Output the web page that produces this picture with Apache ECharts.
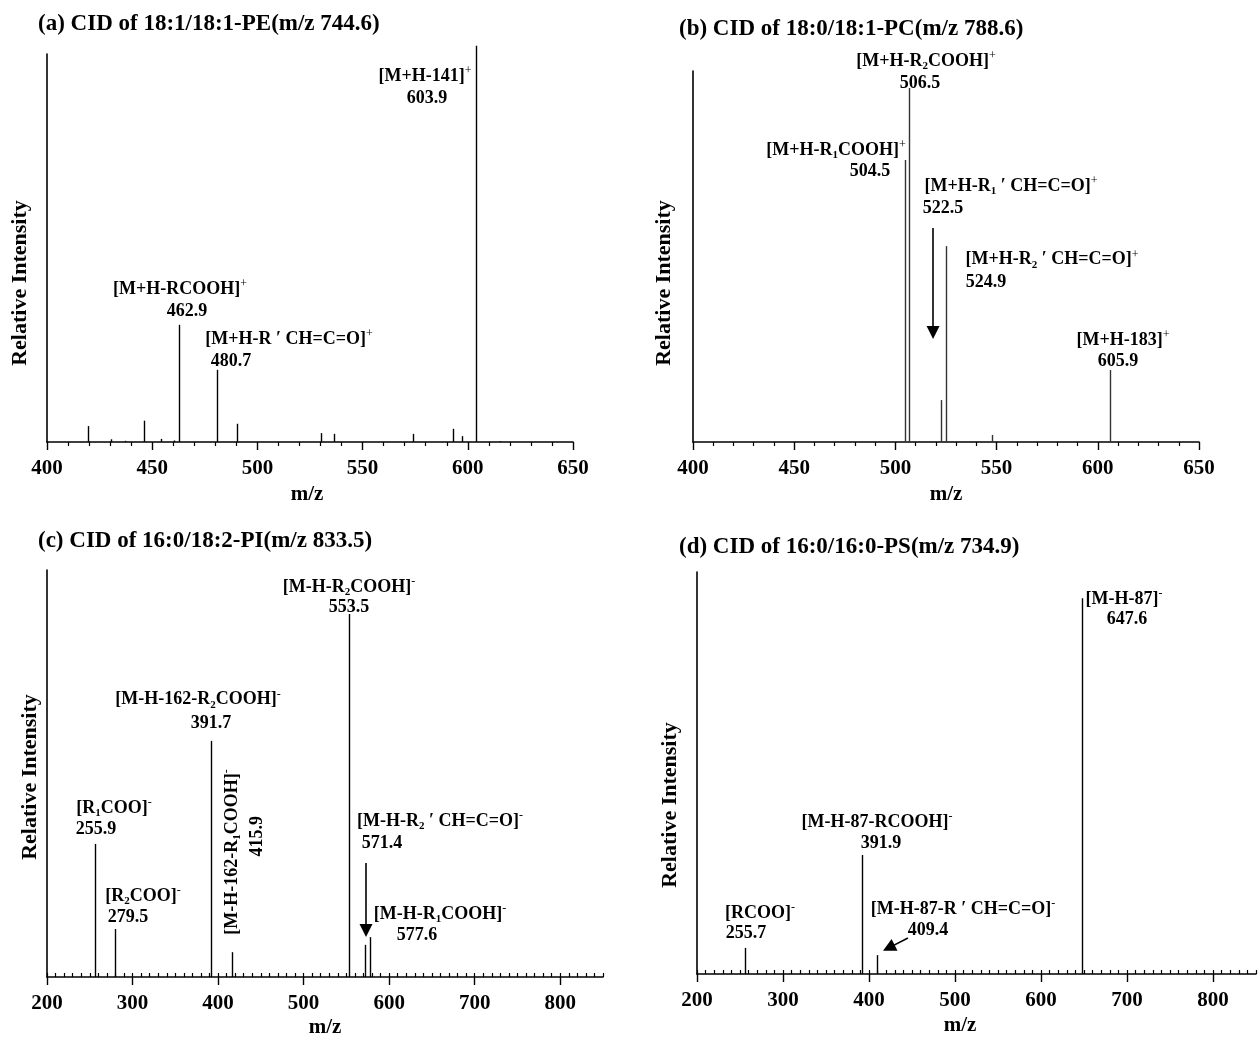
<!DOCTYPE html>
<html>
<head>
<meta charset="utf-8">
<script src="https://cdn.jsdelivr.net/npm/echarts@6/dist/echarts.min.js"></script>
<style>
html,body{margin:0;padding:0;background:#fff;}
#chart{width:1258px;height:1037px;}
</style>
</head>
<body>
<div id="chart"></div>
<script>
// ---------------- data ----------------
const ticksAB = [400, 450, 500, 550, 600, 650];
const ticksCD = [200, 300, 400, 500, 600, 700, 800];
const maxCD = 850;

// (a) CID of 18:1/18:1-PE
const mzA  = [419.3, 430.5, 437.0, 446.2, 454.0, 460.3, 462.9, 480.7, 490.5, 530.0, 536.4, 574.0, 592.8, 597.3, 603.9, 615.3];
const intA = [4.1,   0.7,   0.3,   5.5,   0.8,   0.4,   30.2,  18.6,  4.7,   2.3,   2.1,   2.1,   3.4,   1.5,   102.1, 0.2];
// (b) CID of 18:0/18:1-PC
const mzB  = [504.5, 506.5, 522.5, 524.9, 547.6, 605.9];
const intB = [76.0,  95.4,  11.3,  52.8,  1.9,   19.4];
// (c) CID of 16:0/18:2-PI
const mzC  = [255.9, 279.5, 391.7, 415.9, 553.5, 571.4, 577.6];
const intC = [32.7,  11.8,  58.0,  6.1,   89.2,  7.9,   9.8];
// (d) CID of 16:0/16:0-PS
const mzD  = [255.7, 391.9, 409.4, 647.6];
const intD = [6.5,   29.6,  4.7,   93.5];

const titles = [
  '(a) CID of 18:1/18:1-PE(m/z 744.6)',
  '(b) CID of 18:0/18:1-PC(m/z 788.6)',
  '(c) CID of 16:0/18:2-PI(m/z 833.5)',
  '(d) CID of 16:0/16:0-PS(m/z 734.9)'
];

// annotation texts ( _x = subscript, ^x = superscript ) anchored in data units
const annA = [
  ['[M+H-141]^+', 579.7, 94.3], ['603.9', 580.6, 88.7],
  ['[M+H-RCOOH]^+', 463.2, 39.4], ['462.9', 466.5, 33.8],
  ['[M+H-R ′ CH=C=O]^+', 515.0, 26.5], ['480.7', 487.5, 20.9]
];
const annB = [
  ['[M+H-R_2COOH]^+', 515.1, 102.7], ['506.5', 512.2, 96.8],
  ['[M+H-R_1COOH]^+', 470.7, 78.7], ['504.5', 487.5, 73.0],
  ['[M+H-R_1 ′ CH=C=O]^+', 557.1, 69.0], ['522.5', 523.5, 63.1],
  ['[M+H-R_2 ′ CH=C=O]^+', 577.4, 49.1], ['524.9', 544.8, 43.1],
  ['[M+H-183]^+', 612.5, 27.5], ['605.9', 610.0, 21.8]
];
const annC = [
  ['[M-H-R_2COOH]^-', 553.1, 95.8], ['553.5', 553.1, 90.9],
  ['[M-H-162-R_2COOH]^-', 376.5, 68.1], ['391.7', 391.7, 62.4],
  ['[R_1COO]^-', 278.3, 41.5], ['255.9', 257.3, 36.4],
  ['[R_2COO]^-', 312.2, 19.9], ['279.5', 294.7, 14.7],
  ['[M-H-162-R_1COOH]^-', 416.3, 30.7, 90], ['415.9', 445.5, 34.6, 90],
  ['[M-H-R_2 ′ CH=C=O]^-', 659.4, 38.3], ['571.4', 591.6, 32.9],
  ['[M-H-R_1COOH]^-', 659.4, 15.5], ['577.6', 632.5, 10.3]
];
const annD = [
  ['[M-H-87]^-', 696.5, 93.3], ['647.6', 700.0, 88.1],
  ['[M-H-87-RCOOH]^-', 409.3, 37.8], ['391.9', 414.0, 32.6],
  ['[RCOO]^-', 273.3, 15.2], ['255.7', 257.0, 10.0],
  ['[M-H-87-R ′ CH=C=O]^-', 509.3, 16.2], ['409.4', 468.6, 10.9]
];
// arrows [x1, y1, x2, y2] in data units
const arrowsB = [[518.6, 57.7, 518.6, 29.5]];
const arrowsC = [[572.9, 28.0, 572.9, 11.4]];
const arrowsD = [[445.3, 8.96, 423.0, 6.5]];

// ---------------- styling / layout ----------------
const FONT = '"Liberation Serif", "Times New Roman", Times, serif';
const grids = [
  {left: 47,  top: 54,  width: 526, height: 388},
  {left: 693, top: 71,  width: 506, height: 371},
  {left: 47,  top: 570, width: 556, height: 407},
  {left: 697, top: 572, width: 559, height: 402}
];
const peakColors = ['#000', '#333', '#000', '#000'];

function toRich(s) {
  let out = '', buf = '';
  const flush = () => { if (buf) { out += '{m|' + buf + '}'; buf = ''; } };
  for (let i = 0; i < s.length; i++) {
    const c = s[i];
    if (c === '_' || c === '^') {
      flush();
      out += '{' + (c === '_' ? 'sub' : 'sup') + '|' + s[i + 1] + '}';
      i++;
    } else buf += c;
  }
  flush();
  return out;
}
const noBorder = {textBorderWidth: 0, textShadowBlur: 0, opacity: 1};
const rich = {
  m:   Object.assign({fontFamily: FONT, fontWeight: 'bold', fontSize: 18, lineHeight: 22, color: '#000'}, noBorder),
  sub: Object.assign({fontFamily: FONT, fontWeight: 'bold', fontSize: 11, lineHeight: 11, verticalAlign: 'bottom', color: '#000'}, noBorder),
  sup: Object.assign({fontFamily: FONT, fontWeight: 'normal', fontSize: 12, lineHeight: 12, verticalAlign: 'top', color: '#000'}, noBorder)
};

function xAxisMain(i, ticks, max, minorSplit) {
  return {
    type: 'value', gridIndex: i, min: ticks[0], max: max,
    interval: ticks[1] - ticks[0],
    axisLine: {show: true, onZero: false, lineStyle: {color: '#000', width: 1.6}},
    axisTick: {show: true, length: 8, lineStyle: {color: '#000', width: 1.4}},
    minorTick: minorSplit ? {show: true, splitNumber: minorSplit, length: 4, lineStyle: {color: '#000', width: 1.2}} : {show: false},
    axisLabel: {show: true, margin: 16, fontFamily: FONT, fontWeight: 'bold', fontSize: 21, color: '#000',
                showMaxLabel: max === ticks[ticks.length - 1]},
    splitLine: {show: false}, minorSplitLine: {show: false}
  };
}
function xAxisMinor(i, ticks, max) {
  return {
    type: 'value', gridIndex: i, min: ticks[0], max: max, interval: 10,
    axisLine: {show: false}, axisLabel: {show: false}, splitLine: {show: false},
    axisTick: {show: true, length: 4, lineStyle: {color: '#000', width: 1.2}}
  };
}
function yAxis(i) {
  return {
    type: 'value', gridIndex: i, min: 0, max: 100,
    axisLine: {show: true, lineStyle: {color: '#000', width: 1.6}},
    axisTick: {show: false}, axisLabel: {show: false}, splitLine: {show: false}
  };
}

const xAxes = [
  xAxisMain(0, ticksAB, ticksAB[ticksAB.length - 1], 5),
  xAxisMain(1, ticksAB, ticksAB[ticksAB.length - 1], 5),
  xAxisMain(2, ticksCD, maxCD, 0),
  xAxisMain(3, ticksCD, maxCD, 0),
  xAxisMinor(2, ticksCD, maxCD),
  xAxisMinor(3, ticksCD, maxCD)
];
const yAxes = [yAxis(0), yAxis(1), yAxis(2), yAxis(3)];

function peakSeries(i, mz, inten) {
  return {
    type: 'custom', xAxisIndex: i, yAxisIndex: i, clip: false, silent: true,
    data: mz.map((m, k) => [m, inten[k]]),
    renderItem: function (params, api) {
      const p0 = api.coord([api.value(0), 0]);
      const p1 = api.coord([api.value(0), api.value(1)]);
      const x = Math.round(p0[0]) + 0.5;
      return {type: 'line', shape: {x1: x, y1: p0[1], x2: x, y2: p1[1]},
              style: {stroke: peakColors[i], lineWidth: 1.4}};
    }
  };
}
function annSeries(i, ann, arrows) {
  return {
    type: 'scatter', xAxisIndex: i, yAxisIndex: i, clip: false, silent: true,
    symbolSize: 0.5, itemStyle: {color: '#fff', opacity: 1}, z: 10,
    data: ann.map(a => ({value: [a[1], a[2]], rt: toRich(a[0]),
                         label: a[3] ? {rotate: a[3]} : undefined})),
    label: Object.assign({show: true, position: 'inside', align: 'center', verticalAlign: 'middle',
            formatter: p => p.data.rt, rich: rich,
            fontFamily: FONT, fontWeight: 'bold', fontSize: 18, color: '#000'}, noBorder),
    markLine: arrows ? {
      silent: true, animation: false, symbol: ['none', 'triangle'], symbolSize: 13,
      lineStyle: {color: '#000', width: 1.6, type: 'solid'}, label: {show: false},
      data: arrows.map(a => [{coord: [a[0], a[1]]}, {coord: [a[2], a[3]]}])
    } : undefined
  };
}

const titleFont = 'bold 23px ' + FONT;
const axisNameFont = 'bold 22px ' + FONT;
const graphics = [];
[[38, 24], [679, 29], [38, 541], [679, 547]].forEach((p, k) => {
  graphics.push({type: 'text', x: p[0], y: p[1],
    style: {text: titles[k], font: titleFont, fill: '#000', textAlign: 'left', textVerticalAlign: 'middle'}});
});
[[20, 283], [664, 283], [30, 777], [670, 805]].forEach(p => {
  graphics.push({type: 'text', x: p[0], y: p[1], rotation: Math.PI / 2,
    style: {text: 'Relative Intensity', font: axisNameFont, fill: '#000', textAlign: 'center', textVerticalAlign: 'middle'}});
});
[[307, 495], [946, 495], [325, 1028], [960, 1026]].forEach(p => {
  graphics.push({type: 'text', x: p[0], y: p[1],
    style: {text: 'm/z', font: 'bold 21px ' + FONT, fill: '#000', textAlign: 'center', textVerticalAlign: 'middle'}});
});

const chart = echarts.init(document.getElementById('chart'), null, {renderer: 'canvas'});
chart.setOption({
  animation: false,
  backgroundColor: '#fff',
  grid: grids,
  xAxis: xAxes,
  yAxis: yAxes,
  graphic: graphics,
  series: [
    peakSeries(0, mzA, intA), peakSeries(1, mzB, intB), peakSeries(2, mzC, intC), peakSeries(3, mzD, intD),
    annSeries(0, annA, null), annSeries(1, annB, arrowsB), annSeries(2, annC, arrowsC), annSeries(3, annD, arrowsD)
  ]
});
</script>
</body>
</html>
